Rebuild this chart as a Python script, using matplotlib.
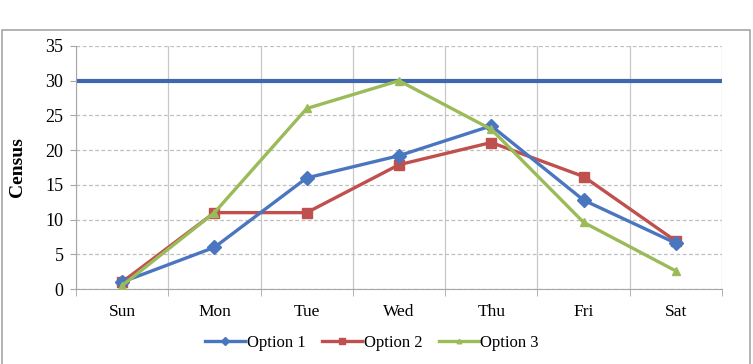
import matplotlib.pyplot as plt
import numpy as np
from matplotlib.patches import Rectangle

plt.rcParams['font.family'] = ['Liberation Serif', 'DejaVu Serif']

days = ['Sun', 'Mon', 'Tue', 'Wed', 'Thu', 'Fri', 'Sat']
option1 = [1, 6, 16, 19.2, 23.5, 12.8, 6.6]
option2 = [1, 11, 11, 17.9, 21.1, 16.2, 6.9]
option3 = [0.5, 11, 26, 30, 23, 9.6, 2.6]
capacity = 30  # blue reference line

fig = plt.figure(figsize=(7.53, 3.64), dpi=100)
# outer chart frame
fig.patches.append(Rectangle((2 / 753, -0.01), 748 / 753, (364 - 30) / 364 + 0.01,
                             transform=fig.transFigure, fill=False,
                             edgecolor='#a6a6a6', linewidth=1.2))

ax = fig.add_axes([76 / 753, 1 - 289 / 364, (722 - 76) / 753, (289 - 46) / 364])
x = np.arange(len(days))

ax.axhline(capacity, color='#3f67b0', linewidth=3, zorder=2)
ax.plot(x, option1, color='#4a76c0', linewidth=2.4, marker='D', markersize=7, label='Option 1', zorder=4)
ax.plot(x, option2, color='#c0504d', linewidth=2.4, marker='s', markersize=7, label='Option 2', zorder=3)
ax.plot(x, option3, color='#9bbb59', linewidth=2.4, marker='^', markersize=5.5, label='Option 3', zorder=5)

ax.set_xlim(-0.5, len(days) - 0.5)
ax.set_ylim(0, 35)
ax.set_yticks(range(0, 36, 5))
ax.set_xticks(x)
ax.set_xticklabels(days)
ax.set_xticks(np.arange(-0.5, len(days), 1), minor=True)
ax.tick_params(axis='x', which='major', length=0, pad=11, labelsize=12.5)
ax.tick_params(axis='x', which='minor', length=5, color='#a6a6a6')
ax.tick_params(axis='y', length=4, color='#a6a6a6', labelsize=13, pad=5)

ax.grid(axis='y', linestyle=(0, (3, 2)), color='#bfbfbf', linewidth=0.9)
ax.grid(axis='x', which='minor', linestyle='-', color='#c8c8c8', linewidth=0.9)
ax.set_axisbelow(True)
for s in ['top', 'right']:
    ax.spines[s].set_visible(False)
for s in ['left', 'bottom']:
    ax.spines[s].set_color('#a6a6a6')

ax.set_ylabel('Census', fontsize=14, fontweight='bold', labelpad=14)

handles, labels = ax.get_legend_handles_labels()
fig.legend(handles, labels, loc='center', bbox_to_anchor=(372 / 753, 1 - 343 / 364), ncol=3,
           frameon=False, fontsize=12, handlelength=2.4, columnspacing=1.0,
           handletextpad=0.1, markerscale=0.6)

fig.savefig('out.png', dpi=100)
